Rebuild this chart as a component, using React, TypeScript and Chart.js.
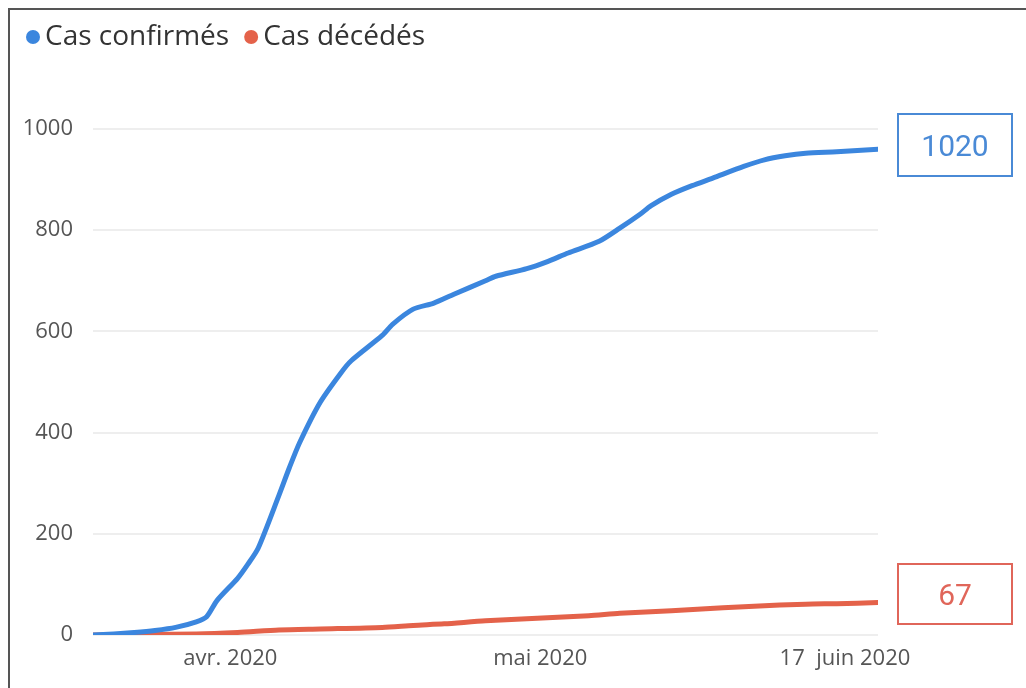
import React, { useEffect, useRef } from "react";
import { Chart, registerables } from "chart.js";

Chart.register(...registerables);

// Day offsets (0 = first day shown)
const confirmedDays = [0, 2, 4, 6, 8, 10, 11, 12, 14, 15, 16, 18, 19, 20, 22, 24, 25, 28, 29, 31, 33, 35, 38, 39, 42, 44, 46, 49, 51, 53, 54, 56, 58, 60, 63, 65, 67, 69, 72, 76];
const confirmedValues = [0, 2, 5, 9, 15, 26, 36, 68, 112, 140, 172, 276, 330, 380, 460, 518, 542, 592, 614, 644, 656, 674, 700, 709, 724, 738, 755, 778, 804, 832, 848, 871, 888, 903, 926, 939, 947, 952, 955, 960];

const deathDays = [0, 10, 14, 18, 22, 28, 31, 34, 38, 43, 48, 51, 56, 61, 64, 69, 72, 76];
const deathValues = [0, 2, 5, 10, 12, 15, 19, 22, 28, 33, 38, 43, 48, 54, 57, 61, 62, 64];

const xTickPositions = [13.3, 43.3, 72.8];
const xTickLabels = ["avr. 2020", "mai 2020", "17  juin 2020"];
const yTicks = [0, 200, 400, 600, 800, 1000];

const seriesNames = ["Cas confirmés", "Cas décédés"];
const totals = ["1020", "67"];

const BLUE = "#3b86de";
const RED = "#e4624a";
const FONT = "'Open Sans', 'Noto Sans', sans-serif";

const legendPlugin = {
  id: "customLegend",
  afterDraw(chart: any) {
    const ctx = chart.ctx;
    ctx.save();
    ctx.font = `28px ${FONT}`;
    ctx.textBaseline = "middle";
    ctx.textAlign = "left";
    let x = 23;
    const y = 27;
    chart.data.datasets.forEach((ds: any) => {
      ctx.fillStyle = ds.borderColor;
      ctx.beginPath();
      ctx.arc(x, y, 7, 0, Math.PI * 2);
      ctx.fill();
      ctx.fillStyle = "#333";
      ctx.fillText(ds.label, x + 12, y);
      const w = ctx.measureText(ds.label).width;
      x = x + 12 + w + 22;
    });
    ctx.restore();
  },
};

export default function App() {
  const ref = useRef<HTMLCanvasElement | null>(null);

  useEffect(() => {
    if (!ref.current) return;
    const chart = new Chart(ref.current, {
      type: "line",
      data: {
        datasets: [
          {
            label: seriesNames[0],
            data: confirmedDays.map((d, i) => ({ x: d, y: confirmedValues[i] })),
            borderColor: BLUE,
            backgroundColor: BLUE,
            borderWidth: 5,
            pointRadius: 0,
            tension: 0.25,
            borderCapStyle: "round",
            borderJoinStyle: "round",
          },
          {
            label: seriesNames[1],
            data: deathDays.map((d, i) => ({ x: d, y: deathValues[i] })),
            borderColor: RED,
            backgroundColor: RED,
            borderWidth: 5,
            pointRadius: 0,
            tension: 0.25,
            borderCapStyle: "round",
          },
        ],
      },
      plugins: [legendPlugin],
      options: {
        animation: false,
        responsive: false,
        maintainAspectRatio: false,
        layout: { padding: { left: 0, right: 148, top: 119, bottom: 0 } },
        plugins: {
          tooltip: { enabled: false },
          legend: { display: false },
        },
        scales: {
          x: {
            type: "linear",
            min: 0,
            max: 76,
            grid: { display: false, drawTicks: false },
            border: { display: false },
            afterBuildTicks: (scale: any) => {
              scale.ticks = xTickPositions.map((v) => ({ value: v }));
            },
            afterFit: (scale: any) => {
              scale.height = 53;
            },
            ticks: {
              autoSkip: false,
              maxRotation: 0,
              padding: 11,
              color: "#555",
              font: { family: FONT, size: 22 },
              callback: (v: any) => {
                const i = xTickPositions.indexOf(Number(v));
                return i >= 0 ? xTickLabels[i] : "";
              },
            },
          },
          y: {
            min: 0,
            max: 1000,
            grid: { color: "#eeeeee", lineWidth: 2, drawTicks: false },
            border: { display: false },
            afterBuildTicks: (scale: any) => {
              scale.ticks = yTicks.map((v) => ({ value: v }));
            },
            afterFit: (scale: any) => {
              scale.width = 83;
            },
            ticks: {
              padding: 20,
              color: "#555",
              font: { family: FONT, size: 22 },
              callback: (v: any) => String(v),
            },
          },
        },
      },
    });
    return () => chart.destroy();
  }, []);

  const boxStyle = (color: string, top: number, height: number): React.CSSProperties => ({
    position: "absolute",
    left: 897,
    top,
    width: 116,
    height,
    border: `2px solid ${color}`,
    color,
    boxSizing: "border-box",
    display: "flex",
    alignItems: "center",
    justifyContent: "center",
    fontFamily: "'Roboto', 'Noto Sans', sans-serif",
    fontSize: 30,
  });

  return (
    <div style={{ position: "fixed", left: 0, top: 0, width: 1026, height: 688, background: "#fff" }}>
      <div
        style={{
          position: "absolute",
          left: 8,
          top: 8,
          width: 1018,
          height: 680,
          borderLeft: "2px solid #555",
          borderTop: "2px solid #555",
          boxSizing: "border-box",
        }}
      />
      <canvas
        ref={ref}
        width={1016}
        height={678}
        style={{ position: "absolute", left: 10, top: 10, width: 1016, height: 678 }}
      />
      <div style={boxStyle("#4a8ad6", 113, 64)}>{totals[0]}</div>
      <div style={boxStyle("#e0665a", 563, 62)}>{totals[1]}</div>
    </div>
  );
}
